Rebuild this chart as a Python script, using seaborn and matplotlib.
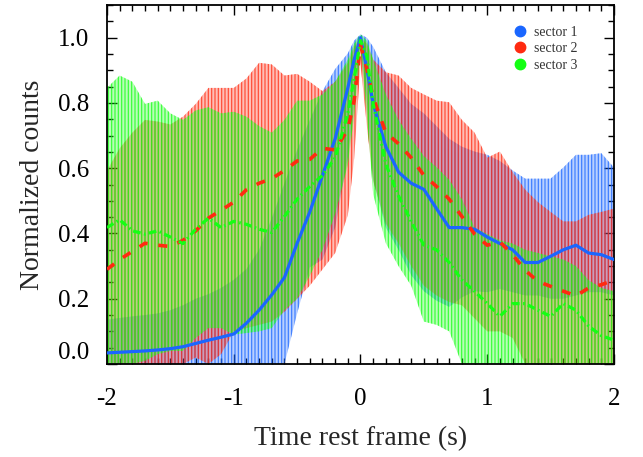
import numpy as np
import pandas as pd
import seaborn as sns
import matplotlib
matplotlib.use("Agg")
import matplotlib.pyplot as plt
from matplotlib.colors import to_rgba
from matplotlib.lines import Line2D
from matplotlib.ticker import MultipleLocator

# Time grid (s), rest frame
time = [-2.0, -1.9, -1.8, -1.7, -1.6, -1.5, -1.4, -1.3, -1.2, -1.1, -1.0,
        -0.9, -0.8, -0.7, -0.6, -0.5, -0.4, -0.3, -0.2, -0.1, -0.05, 0.0,
        0.05, 0.1, 0.2, 0.3, 0.4, 0.5, 0.6, 0.7, 0.8, 0.9, 1.0,
        1.1, 1.2, 1.3, 1.4, 1.5, 1.6, 1.7, 1.8, 1.9, 2.0]

# Sector 1
s1_mean = [0.034, 0.036, 0.038, 0.040, 0.043, 0.047, 0.053, 0.063, 0.073, 0.082, 0.092,
           0.125, 0.165, 0.212, 0.265, 0.37, 0.466, 0.578, 0.69, 0.846, 0.933, 1.0,
           0.904, 0.797, 0.666, 0.588, 0.554, 0.535, 0.476, 0.418, 0.418, 0.413, 0.389,
           0.369, 0.35, 0.311, 0.311, 0.33, 0.35, 0.364, 0.34, 0.335, 0.32]
s1_high = [0.136, 0.141, 0.146, 0.15, 0.155, 0.165, 0.18, 0.2, 0.214, 0.233, 0.258,
           0.291, 0.35, 0.447, 0.554, 0.656, 0.748, 0.836, 0.904, 0.952, 0.991, 1.01,
           1.0, 0.972, 0.894, 0.846, 0.797, 0.768, 0.729, 0.69, 0.666, 0.651, 0.641,
           0.622, 0.593, 0.568, 0.568, 0.568, 0.602, 0.641, 0.641, 0.646, 0.602]
s1_low = [0.0, 0.0, 0.0, 0.0, 0.0, 0.0, 0.0, 0.0, 0.0, 0.0, 0.0,
          0.0, 0.0, 0.0, 0.0, 0.155, 0.296, 0.32, 0.418, 0.632, 0.787, 0.972,
          0.807, 0.564, 0.418, 0.35, 0.272, 0.223, 0.194, 0.175, 0.204, 0.223, 0.22,
          0.23, 0.22, 0.21, 0.21, 0.2, 0.2, 0.21, 0.22, 0.22, 0.21]

# Sector 2
s2_mean = [0.29, 0.32, 0.345, 0.37, 0.364, 0.36, 0.379, 0.408, 0.447, 0.471, 0.496,
           0.534, 0.554, 0.568, 0.593, 0.622, 0.627, 0.661, 0.656, 0.719, 0.807, 0.977,
           0.904, 0.816, 0.709, 0.675, 0.632, 0.578, 0.544, 0.505, 0.452, 0.398, 0.364,
           0.374, 0.335, 0.287, 0.253, 0.238, 0.223, 0.209, 0.233, 0.243, 0.257]
s2_high = [0.593, 0.661, 0.709, 0.748, 0.743, 0.734, 0.758, 0.797, 0.846, 0.846, 0.846,
           0.875, 0.923, 0.918, 0.884, 0.889, 0.865, 0.836, 0.865, 0.923, 0.972, 1.0,
           0.982, 0.933, 0.894, 0.884, 0.846, 0.826, 0.807, 0.802, 0.748, 0.709, 0.632,
           0.651, 0.588, 0.534, 0.496, 0.466, 0.437, 0.437, 0.457, 0.466, 0.476]
s2_low = [0.0, 0.0, 0.0, 0.0, 0.0, 0.0, 0.0, 0.02, 0.0, 0.03, 0.1,
          0.11, 0.12, 0.13, 0.16, 0.2, 0.24, 0.29, 0.34, 0.456, 0.63, 0.92,
          0.73, 0.56, 0.43, 0.37, 0.3, 0.24, 0.21, 0.19, 0.18, 0.14, 0.1,
          0.1, 0.08, 0.0, 0.0, 0.0, 0.0, 0.0, 0.0, 0.0, 0.0]

# Sector 3
s3_mean = [0.418, 0.442, 0.408, 0.398, 0.408, 0.389, 0.369, 0.413, 0.447, 0.418, 0.437,
           0.428, 0.413, 0.403, 0.452, 0.505, 0.544, 0.578, 0.632, 0.768, 0.875, 0.991,
           0.943, 0.797, 0.612, 0.515, 0.437, 0.364, 0.35, 0.311, 0.257, 0.223, 0.185,
           0.146, 0.185, 0.185, 0.165, 0.146, 0.185, 0.165, 0.116, 0.087, 0.073]
s3_high = [0.846, 0.884, 0.865, 0.797, 0.807, 0.768, 0.748, 0.777, 0.787, 0.768, 0.773,
           0.758, 0.729, 0.709, 0.748, 0.807, 0.807, 0.826, 0.865, 0.933, 0.982, 1.01,
           0.991, 0.933, 0.826, 0.748, 0.69, 0.637, 0.603, 0.564, 0.505, 0.418, 0.398,
           0.379, 0.369, 0.35, 0.34, 0.33, 0.32, 0.3, 0.257, 0.233, 0.223]
s3_low = [0.0, 0.0, 0.0, 0.01, 0.03, 0.04, 0.04, 0.08, 0.11, 0.11, 0.09,
          0.095, 0.1, 0.11, 0.165, 0.2, 0.27, 0.35, 0.46, 0.61, 0.76, 0.97,
          0.76, 0.52, 0.37, 0.3, 0.24, 0.13, 0.12, 0.1, 0.0, 0.0, 0.0,
          0.0, 0.0, 0.0, 0.0, 0.0, 0.0, 0.0, 0.0, 0.0, 0.0]

labels = ["sector 1", "sector 2", "sector 3"]
colors = ["#1a66ff", "#ff2a10", "#14ff14"]
styles = ["-", (0, (2.5, 3.0)), (0, (2.4, 1.1, 0.5, 1.1))]
widths = [2.3, 2.6, 2.3]

sns.set_theme(style="ticks")
plt.rcParams["font.family"] = ["Liberation Serif", "DejaVu Serif"]
plt.rcParams["axes.unicode_minus"] = False
plt.rcParams["hatch.linewidth"] = 0.9

fig = plt.figure(figsize=(6.43, 4.57), dpi=100)
ax = fig.add_axes([0.1664, 0.2035, 0.7885, 0.7855])

series = [(s1_mean, s1_low, s1_high), (s2_mean, s2_low, s2_high),
          (s3_mean, s3_low, s3_high)]

# Uncertainty envelopes, striped
for (mean, lo, hi), c in zip(series, colors):
    ax.fill_between(time, lo, hi, facecolor=to_rgba(c, 0.30),
                    edgecolor=to_rgba(c, 0.75), hatch="|||||", linewidth=0,
                    zorder=1)

# Mean light curves
for (mean, lo, hi), c, ls, lw in zip(series, colors, styles, widths):
    df = pd.DataFrame({"t": time, "counts": mean})
    sns.lineplot(data=df, x="t", y="counts", ax=ax, color=c, linestyle=ls,
                 linewidth=lw, zorder=3)

ax.set_xlim(-2, 2)
ax.set_ylim(0, 1.1)
ax.xaxis.set_major_locator(MultipleLocator(1))
ax.xaxis.set_minor_locator(MultipleLocator(0.1))
ax.yaxis.set_major_locator(MultipleLocator(0.2))
ax.yaxis.set_minor_locator(MultipleLocator(0.05))
ax.xaxis.set_major_formatter(plt.FuncFormatter(lambda v, p: f"{v:.0f}"))
ax.yaxis.set_major_formatter(plt.FuncFormatter(lambda v, p: f"{v:.1f}"))
ax.tick_params(which="both", direction="in", top=True, right=True,
               colors="black", width=1.0)
ax.tick_params(which="major", length=7)
ax.tick_params(which="minor", length=4)
ax.tick_params(axis="x", which="major", labelsize=18, pad=17)
ax.tick_params(axis="y", which="major", labelsize=18, pad=13)
for sp in ax.spines.values():
    sp.set_linewidth(1.3)
    sp.set_color("black")

ax.set_xlabel("Time rest frame (s)", fontsize=20, labelpad=12)
ax.set_ylabel("Normalized counts", fontsize=20, labelpad=9)

handles = [Line2D([], [], linestyle="none", marker="o", markersize=7.5,
                  markerfacecolor=c, markeredgecolor=c) for c in colors]
ax.legend(handles, labels, loc="upper left", bbox_to_anchor=(0.787, 0.962),
          frameon=False, fontsize=10, handlelength=1.0, handletextpad=0.5,
          labelspacing=0.25, borderpad=0, labelcolor="#333333")

# the label of the zero tick sits just above the axis line
fig.canvas.draw()
for tick in ax.yaxis.get_major_ticks():
    if abs(tick.get_loc()) < 1e-9:
        tick.label1.set_verticalalignment("bottom")

fig.savefig("out.png", dpi=100)
